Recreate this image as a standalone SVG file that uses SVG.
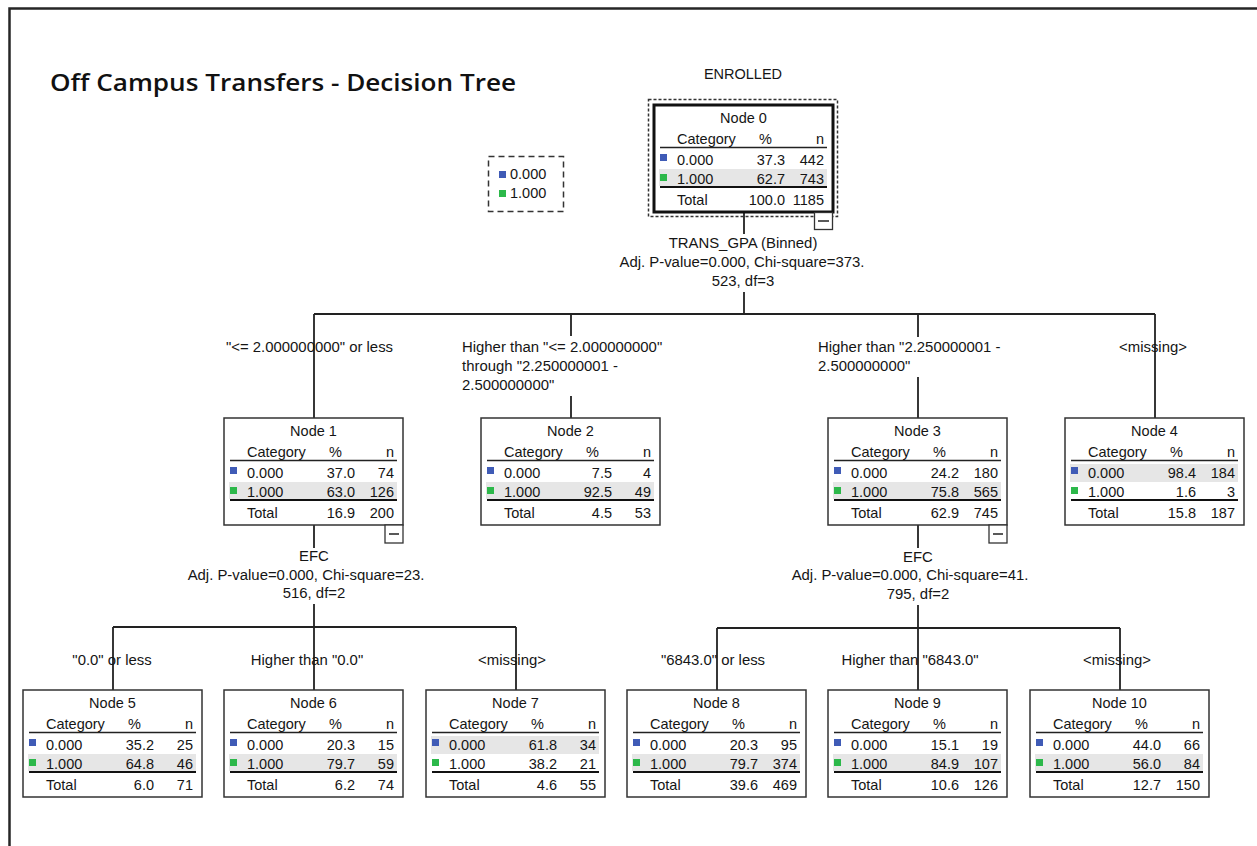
<svg xmlns="http://www.w3.org/2000/svg" width="1257" height="846" viewBox="0 0 1257 846">
<style>
.t{font-family:"Liberation Sans",Arial,sans-serif;font-size:14.5px;fill:#151515}
.lb{font-size:14.9px}
.c{text-anchor:middle}
.e{text-anchor:end}
.box{fill:#fff;stroke:#333;stroke-width:1.5}
.hl{stroke:#222;stroke-width:1.5}
.tl{stroke:#111;stroke-width:2.2}
.band{fill:#e6e6e6}
.b{fill:#3f5bb6}
.g{fill:#2cb84a}
.conn{stroke:#222;stroke-width:1.8;fill:none}
.cb{fill:#fff;stroke:#333;stroke-width:1.3}
</style>
<rect width="1257" height="846" fill="#fff"/>
<path d="M9.5,846 V8.5 H1257" fill="none" stroke="#262626" stroke-width="2.5"/>
<text x="50" y="91" font-family="'Open Sans','Liberation Sans',sans-serif" font-weight="600" font-size="24" textLength="466" lengthAdjust="spacingAndGlyphs" fill="#111">Off Campus Transfers - Decision Tree</text>

<g id="legend">
<rect x="488.5" y="156.5" width="75" height="55" fill="none" stroke="#333" stroke-width="1.5" stroke-dasharray="6,4"/>
<rect class="b" x="499" y="171" width="7" height="7"/>
<text class="t" x="510" y="179">0.000</text>
<rect class="g" x="499" y="190" width="7" height="7"/>
<text class="t" x="510" y="198">1.000</text>
</g>

<g id="connectors">
<path class="conn" d="M744,212 V234 M744,292 V314 M314,314 H1155 M314,314 V418 M571,314 V336 M571,396 V418 M918,314 V337 M918,377 V418 M1155,314 V418"/>
<path class="conn" d="M314,525 V548 M314,604 V627 M113,627 H516 M113,627 V690 M314,627 V690 M516,627 V690"/>
<path class="conn" d="M918,525 V548 M918,605 V628 M717,628 H1120 M717,628 V690 M918,628 V690 M1120,628 V690"/>
</g>

<g id="labels">
<text class="t c" x="743" y="79" font-size="13.5">ENROLLED</text>
<text class="t lb c" x="743" y="248">TRANS_GPA (Binned)</text>
<text class="t lb c" x="742" y="267">Adj. P-value=0.000, Chi-square=373.</text>
<text class="t lb c" x="743" y="286">523, df=3</text>
<text class="t lb" x="226" y="352">"&lt;= 2.000000000" or less</text>
<text class="t lb" x="462" y="352">Higher than "&lt;= 2.000000000"</text>
<text class="t lb" x="462" y="371">through "2.250000001 -</text>
<text class="t lb" x="462" y="390">2.500000000"</text>
<text class="t lb" x="818" y="352">Higher than "2.250000001 -</text>
<text class="t lb" x="818" y="371">2.500000000"</text>
<text class="t lb c" x="1153" y="352">&lt;missing&gt;</text>
<text class="t lb c" x="314" y="561">EFC</text>
<text class="t lb c" x="306" y="580">Adj. P-value=0.000, Chi-square=23.</text>
<text class="t lb c" x="314" y="598">516, df=2</text>
<text class="t lb c" x="918" y="562">EFC</text>
<text class="t lb c" x="910" y="580">Adj. P-value=0.000, Chi-square=41.</text>
<text class="t lb c" x="918" y="599">795, df=2</text>
<text class="t lb c" x="112" y="665">"0.0" or less</text>
<text class="t lb c" x="307" y="665">Higher than "0.0"</text>
<text class="t lb c" x="512" y="665">&lt;missing&gt;</text>
<text class="t lb c" x="713" y="665">"6843.0" or less</text>
<text class="t lb c" x="910" y="665">Higher than "6843.0"</text>
<text class="t lb c" x="1117" y="665">&lt;missing&gt;</text>
</g>

<g id="node0">
<rect x="648.5" y="99.5" width="189" height="117" fill="none" stroke="#333" stroke-width="1.5" stroke-dasharray="3,2"/>
<g transform="translate(654,105)">
<rect width="179" height="107" fill="#fff" stroke="#111" stroke-width="3"/>
<text class="t c" x="89.5" y="18">Node 0</text>
<text class="t" x="23" y="39">Category</text><text class="t e" x="118" y="39">%</text><text class="t e" x="170" y="39">n</text>
<line class="hl" x1="6" x2="173" y1="42.5" y2="42.5"/>
<rect class="band" x="5" y="64" width="168" height="17"/>
<rect class="b" x="6" y="49" width="7" height="7"/>
<text class="t" x="23" y="60">0.000</text><text class="t e" x="131" y="60">37.3</text><text class="t e" x="170" y="60">442</text>
<rect class="g" x="6" y="69" width="7" height="7"/>
<text class="t" x="23" y="79">1.000</text><text class="t e" x="131" y="79">62.7</text><text class="t e" x="170" y="79">743</text>
<line class="tl" x1="6" x2="173" y1="82" y2="82"/>
<text class="t" x="23" y="100">Total</text><text class="t e" x="131" y="100">100.0</text><text class="t e" x="170" y="100">1185</text>
</g>
<rect class="cb" x="814.5" y="212.5" width="18" height="17"/>
<line class="hl" x1="818" x2="829" y1="221" y2="221"/>
</g>

<g id="node1" transform="translate(224,418)">
<rect class="box" width="179" height="107"/>
<text class="t c" x="89.5" y="18">Node 1</text>
<text class="t" x="23" y="39">Category</text><text class="t e" x="118" y="39">%</text><text class="t e" x="170" y="39">n</text>
<line class="hl" x1="6" x2="173" y1="42.5" y2="42.5"/>
<rect class="band" x="5" y="64" width="168" height="17"/>
<rect class="b" x="6" y="49" width="7" height="7"/>
<text class="t" x="23" y="60">0.000</text><text class="t e" x="131" y="60">37.0</text><text class="t e" x="170" y="60">74</text>
<rect class="g" x="6" y="69" width="7" height="7"/>
<text class="t" x="23" y="79">1.000</text><text class="t e" x="131" y="79">63.0</text><text class="t e" x="170" y="79">126</text>
<line class="tl" x1="6" x2="173" y1="82" y2="82"/>
<text class="t" x="23" y="100">Total</text><text class="t e" x="131" y="100">16.9</text><text class="t e" x="170" y="100">200</text>
<rect class="cb" x="161" y="107" width="18" height="18"/>
<line class="hl" x1="165" x2="175" y1="116" y2="116"/>
</g>

<g id="node2" transform="translate(481,418)">
<rect class="box" width="179" height="107"/>
<text class="t c" x="89.5" y="18">Node 2</text>
<text class="t" x="23" y="39">Category</text><text class="t e" x="118" y="39">%</text><text class="t e" x="170" y="39">n</text>
<line class="hl" x1="6" x2="173" y1="42.5" y2="42.5"/>
<rect class="band" x="5" y="64" width="168" height="17"/>
<rect class="b" x="6" y="49" width="7" height="7"/>
<text class="t" x="23" y="60">0.000</text><text class="t e" x="131" y="60">7.5</text><text class="t e" x="170" y="60">4</text>
<rect class="g" x="6" y="69" width="7" height="7"/>
<text class="t" x="23" y="79">1.000</text><text class="t e" x="131" y="79">92.5</text><text class="t e" x="170" y="79">49</text>
<line class="tl" x1="6" x2="173" y1="82" y2="82"/>
<text class="t" x="23" y="100">Total</text><text class="t e" x="131" y="100">4.5</text><text class="t e" x="170" y="100">53</text>
</g>

<g id="node3" transform="translate(828,418)">
<rect class="box" width="179" height="107"/>
<text class="t c" x="89.5" y="18">Node 3</text>
<text class="t" x="23" y="39">Category</text><text class="t e" x="118" y="39">%</text><text class="t e" x="170" y="39">n</text>
<line class="hl" x1="6" x2="173" y1="42.5" y2="42.5"/>
<rect class="band" x="5" y="64" width="168" height="17"/>
<rect class="b" x="6" y="49" width="7" height="7"/>
<text class="t" x="23" y="60">0.000</text><text class="t e" x="131" y="60">24.2</text><text class="t e" x="170" y="60">180</text>
<rect class="g" x="6" y="69" width="7" height="7"/>
<text class="t" x="23" y="79">1.000</text><text class="t e" x="131" y="79">75.8</text><text class="t e" x="170" y="79">565</text>
<line class="tl" x1="6" x2="173" y1="82" y2="82"/>
<text class="t" x="23" y="100">Total</text><text class="t e" x="131" y="100">62.9</text><text class="t e" x="170" y="100">745</text>
<rect class="cb" x="161" y="107" width="18" height="18"/>
<line class="hl" x1="165" x2="175" y1="116" y2="116"/>
</g>

<g id="node4" transform="translate(1065,418)">
<rect class="box" width="179" height="107"/>
<text class="t c" x="89.5" y="18">Node 4</text>
<text class="t" x="23" y="39">Category</text><text class="t e" x="118" y="39">%</text><text class="t e" x="170" y="39">n</text>
<line class="hl" x1="6" x2="173" y1="42.5" y2="42.5"/>
<rect class="band" x="5" y="46" width="168" height="18"/>
<rect class="b" x="6" y="49" width="7" height="7"/>
<text class="t" x="23" y="60">0.000</text><text class="t e" x="131" y="60">98.4</text><text class="t e" x="170" y="60">184</text>
<rect class="g" x="6" y="69" width="7" height="7"/>
<text class="t" x="23" y="79">1.000</text><text class="t e" x="131" y="79">1.6</text><text class="t e" x="170" y="79">3</text>
<line class="tl" x1="6" x2="173" y1="82" y2="82"/>
<text class="t" x="23" y="100">Total</text><text class="t e" x="131" y="100">15.8</text><text class="t e" x="170" y="100">187</text>
</g>

<g id="node5" transform="translate(23,690)">
<rect class="box" width="179" height="107"/>
<text class="t c" x="89.5" y="18">Node 5</text>
<text class="t" x="23" y="39">Category</text><text class="t e" x="118" y="39">%</text><text class="t e" x="170" y="39">n</text>
<line class="hl" x1="6" x2="173" y1="42.5" y2="42.5"/>
<rect class="band" x="5" y="64" width="168" height="17"/>
<rect class="b" x="6" y="49" width="7" height="7"/>
<text class="t" x="23" y="60">0.000</text><text class="t e" x="131" y="60">35.2</text><text class="t e" x="170" y="60">25</text>
<rect class="g" x="6" y="69" width="7" height="7"/>
<text class="t" x="23" y="79">1.000</text><text class="t e" x="131" y="79">64.8</text><text class="t e" x="170" y="79">46</text>
<line class="tl" x1="6" x2="173" y1="82" y2="82"/>
<text class="t" x="23" y="100">Total</text><text class="t e" x="131" y="100">6.0</text><text class="t e" x="170" y="100">71</text>
</g>

<g id="node6" transform="translate(224,690)">
<rect class="box" width="179" height="107"/>
<text class="t c" x="89.5" y="18">Node 6</text>
<text class="t" x="23" y="39">Category</text><text class="t e" x="118" y="39">%</text><text class="t e" x="170" y="39">n</text>
<line class="hl" x1="6" x2="173" y1="42.5" y2="42.5"/>
<rect class="band" x="5" y="64" width="168" height="17"/>
<rect class="b" x="6" y="49" width="7" height="7"/>
<text class="t" x="23" y="60">0.000</text><text class="t e" x="131" y="60">20.3</text><text class="t e" x="170" y="60">15</text>
<rect class="g" x="6" y="69" width="7" height="7"/>
<text class="t" x="23" y="79">1.000</text><text class="t e" x="131" y="79">79.7</text><text class="t e" x="170" y="79">59</text>
<line class="tl" x1="6" x2="173" y1="82" y2="82"/>
<text class="t" x="23" y="100">Total</text><text class="t e" x="131" y="100">6.2</text><text class="t e" x="170" y="100">74</text>
</g>

<g id="node7" transform="translate(426,690)">
<rect class="box" width="179" height="107"/>
<text class="t c" x="89.5" y="18">Node 7</text>
<text class="t" x="23" y="39">Category</text><text class="t e" x="118" y="39">%</text><text class="t e" x="170" y="39">n</text>
<line class="hl" x1="6" x2="173" y1="42.5" y2="42.5"/>
<rect class="band" x="5" y="46" width="168" height="18"/>
<rect class="b" x="6" y="49" width="7" height="7"/>
<text class="t" x="23" y="60">0.000</text><text class="t e" x="131" y="60">61.8</text><text class="t e" x="170" y="60">34</text>
<rect class="g" x="6" y="69" width="7" height="7"/>
<text class="t" x="23" y="79">1.000</text><text class="t e" x="131" y="79">38.2</text><text class="t e" x="170" y="79">21</text>
<line class="tl" x1="6" x2="173" y1="82" y2="82"/>
<text class="t" x="23" y="100">Total</text><text class="t e" x="131" y="100">4.6</text><text class="t e" x="170" y="100">55</text>
</g>

<g id="node8" transform="translate(627,690)">
<rect class="box" width="179" height="107"/>
<text class="t c" x="89.5" y="18">Node 8</text>
<text class="t" x="23" y="39">Category</text><text class="t e" x="118" y="39">%</text><text class="t e" x="170" y="39">n</text>
<line class="hl" x1="6" x2="173" y1="42.5" y2="42.5"/>
<rect class="band" x="5" y="64" width="168" height="17"/>
<rect class="b" x="6" y="49" width="7" height="7"/>
<text class="t" x="23" y="60">0.000</text><text class="t e" x="131" y="60">20.3</text><text class="t e" x="170" y="60">95</text>
<rect class="g" x="6" y="69" width="7" height="7"/>
<text class="t" x="23" y="79">1.000</text><text class="t e" x="131" y="79">79.7</text><text class="t e" x="170" y="79">374</text>
<line class="tl" x1="6" x2="173" y1="82" y2="82"/>
<text class="t" x="23" y="100">Total</text><text class="t e" x="131" y="100">39.6</text><text class="t e" x="170" y="100">469</text>
</g>

<g id="node9" transform="translate(828,690)">
<rect class="box" width="179" height="107"/>
<text class="t c" x="89.5" y="18">Node 9</text>
<text class="t" x="23" y="39">Category</text><text class="t e" x="118" y="39">%</text><text class="t e" x="170" y="39">n</text>
<line class="hl" x1="6" x2="173" y1="42.5" y2="42.5"/>
<rect class="band" x="5" y="64" width="168" height="17"/>
<rect class="b" x="6" y="49" width="7" height="7"/>
<text class="t" x="23" y="60">0.000</text><text class="t e" x="131" y="60">15.1</text><text class="t e" x="170" y="60">19</text>
<rect class="g" x="6" y="69" width="7" height="7"/>
<text class="t" x="23" y="79">1.000</text><text class="t e" x="131" y="79">84.9</text><text class="t e" x="170" y="79">107</text>
<line class="tl" x1="6" x2="173" y1="82" y2="82"/>
<text class="t" x="23" y="100">Total</text><text class="t e" x="131" y="100">10.6</text><text class="t e" x="170" y="100">126</text>
</g>

<g id="node10" transform="translate(1030,690)">
<rect class="box" width="179" height="107"/>
<text class="t c" x="89.5" y="18">Node 10</text>
<text class="t" x="23" y="39">Category</text><text class="t e" x="118" y="39">%</text><text class="t e" x="170" y="39">n</text>
<line class="hl" x1="6" x2="173" y1="42.5" y2="42.5"/>
<rect class="band" x="5" y="64" width="168" height="17"/>
<rect class="b" x="6" y="49" width="7" height="7"/>
<text class="t" x="23" y="60">0.000</text><text class="t e" x="131" y="60">44.0</text><text class="t e" x="170" y="60">66</text>
<rect class="g" x="6" y="69" width="7" height="7"/>
<text class="t" x="23" y="79">1.000</text><text class="t e" x="131" y="79">56.0</text><text class="t e" x="170" y="79">84</text>
<line class="tl" x1="6" x2="173" y1="82" y2="82"/>
<text class="t" x="23" y="100">Total</text><text class="t e" x="131" y="100">12.7</text><text class="t e" x="170" y="100">150</text>
</g>
</svg>
